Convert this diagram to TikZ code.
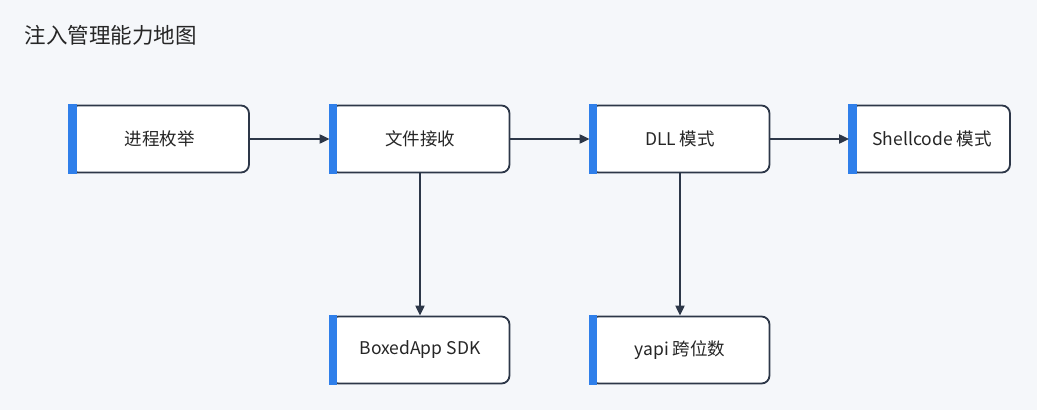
\documentclass[tikz,border=0pt]{standalone}
\usepackage{fontspec}
\setmainfont{Noto Sans CJK SC}
\usetikzlibrary{arrows.meta}
\definecolor{bg}{HTML}{F5F7FA}
\definecolor{edge}{HTML}{2D3748}
\definecolor{bar}{HTML}{2F7FEA}
\tikzset{
  box/.style={draw=edge,line width=1.8pt,fill=white,rounded corners=8pt,minimum width=179pt,minimum height=67pt,inner sep=0pt,font=\fontsize{17.5pt}{20pt}\selectfont,text=black!85},
  conn/.style={draw=edge,line width=2pt,-{Triangle[length=10pt,width=9pt]}}
}
\newcommand{\mybar}[1]{\fill[bar] ([xshift=-0.9pt,yshift=0.9pt]#1.north west) rectangle ([xshift=7.5pt,yshift=-0.9pt]#1.south west);}
\begin{document}
\begin{tikzpicture}[x=1pt,y=-1pt]
\fill[bg] (0,0) rectangle (1037,410);
\useasboundingbox (0,0) rectangle (1037,410);
\node[anchor=west,font=\fontsize{21.5pt}{24pt}\selectfont,text=black!85] (title) at (21,35) {注入管理能力地图};
\node[box] (a) at (159.5,139) {进程枚举};
\node[box] (b) at (420,139) {文件接收};
\node[box] (c) at (680,139) {DLL 模式};
\node[box,minimum width=160pt] (d) at (930,139) {\hspace*{4pt}Shellcode 模式};
\node[box] (e) at (420,350) {BoxedApp SDK};
\node[box] (f) at (680,350) {yapi 跨位数};
\foreach \n in {a,b,c,d,e,f}{\mybar{\n}}
\draw[conn] (a) -- (b.west);
\draw[conn] (b) -- (c.west);
\draw[conn] (c) -- (d.west);
\draw[conn] (b) -- (e);
\draw[conn] (c) -- (f);
\end{tikzpicture}
\end{document}
